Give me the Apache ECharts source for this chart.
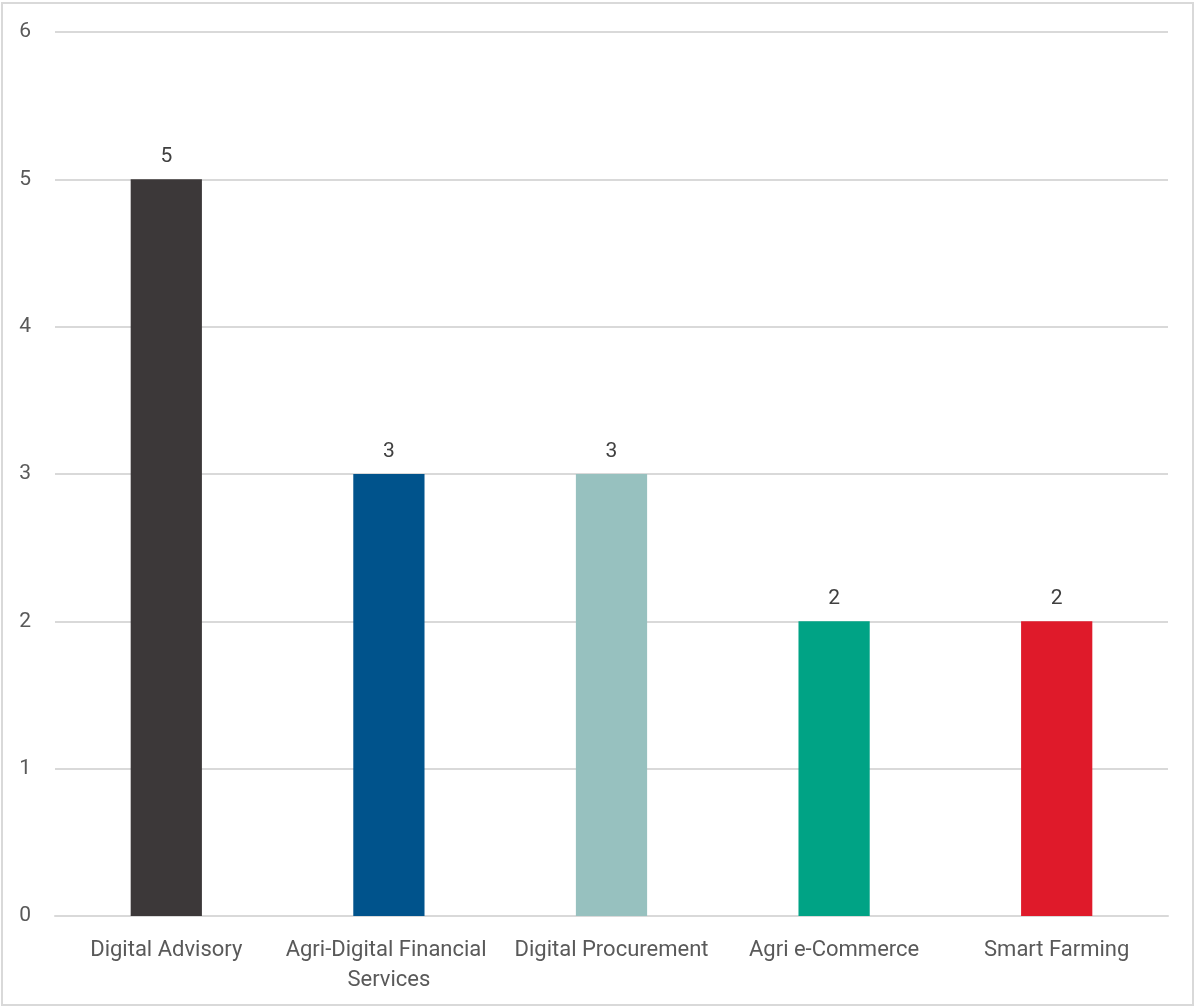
<!DOCTYPE html>
<html>
<head>
<meta charset="utf-8">
<script src="https://cdn.jsdelivr.net/npm/echarts@6/dist/echarts.min.js"></script>
<style>
  html, body { margin: 0; padding: 0; background: #fff; }
  #frame { position: absolute; left: 1px; top: 2px; width: 1193px; height: 1004px; border: 2px solid #d9d9d9; box-sizing: border-box; }
  #chart { position: absolute; left: 0; top: 0; width: 1197px; height: 1008px; }
</style>
</head>
<body>
<div id="frame"></div>
<div id="chart"></div>
<script>
const categories = ['Digital Advisory', 'Agri-Digital Financial Services', 'Digital Procurement', 'Agri e-Commerce', 'Smart Farming'];
const values = [5, 3, 3, 2, 2];
const barColors = ['#3c3839', '#00538c', '#97c1bf', '#00a385', '#df1a2a'];

const FONT = 'Roboto, "Noto Sans", sans-serif';
const chart = echarts.init(document.getElementById('chart'), null, { renderer: 'canvas' });
chart.setOption({
  animation: false,
  grid: { left: 55, right: 29, top: 32, bottom: 92, containLabel: false },
  xAxis: {
    type: 'category',
    data: categories,
    axisLine: { show: true, lineStyle: { color: '#d9d9d9', width: 2 } },
    axisTick: { show: false },
    axisLabel: {
      color: '#595959', fontSize: 22, fontFamily: FONT, margin: 19,
      width: 218, overflow: 'break', lineHeight: 30, interval: 0
    }
  },
  yAxis: {
    type: 'value',
    min: 0, max: 6, interval: 1,
    axisLine: { show: false },
    axisTick: { show: false },
    splitLine: { lineStyle: { color: '#d9d9d9', width: 2 } },
    axisLabel: { color: '#595959', fontSize: 21, fontFamily: FONT, margin: 24 }
  },
  series: [{
    type: 'bar',
    barWidth: '32%',
    data: values.map((v, i) => ({ value: v, itemStyle: { color: barColors[i] } })),
    label: {
      show: true, position: 'top', distance: 12,
      color: '#404040', fontSize: 21, fontFamily: FONT
    }
  }]
});
</script>
</body>
</html>
